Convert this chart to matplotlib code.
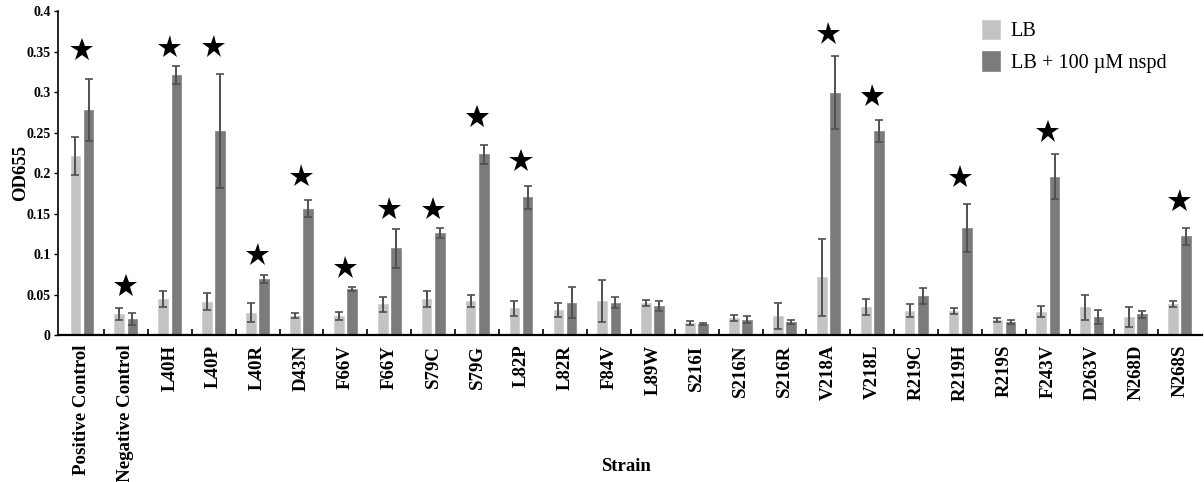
import numpy as np
import matplotlib
matplotlib.use('Agg')
from matplotlib import pyplot as plt
from matplotlib import patheffects as pe
from matplotlib.ticker import FixedLocator

plt.rcParams['font.family'] = ['Liberation Serif', 'DejaVu Serif']

strains = ['Positive Control', 'Negative Control', 'L40H', 'L40P', 'L40R', 'D43N',
           'F66V', 'F66Y', 'S79C', 'S79G', 'L82P', 'L82R', 'F84V', 'L89W',
           'S216I', 'S216N', 'S216R', 'V218A', 'V218L', 'R219C', 'R219H',
           'R219S', 'F243V', 'D263V', 'N268D', 'N268S']

lb = [0.221, 0.026, 0.044, 0.041, 0.0275, 0.024, 0.024, 0.038, 0.044, 0.042,
      0.033, 0.031, 0.042, 0.040, 0.015, 0.021, 0.0235, 0.071, 0.035, 0.030,
      0.030, 0.0185, 0.029, 0.034, 0.022, 0.038]
lb_err = [0.023, 0.007, 0.010, 0.0105, 0.012, 0.003, 0.005, 0.009, 0.010, 0.007,
          0.009, 0.009, 0.0265, 0.0037, 0.0023, 0.0043, 0.016, 0.047, 0.010, 0.008,
          0.0037, 0.003, 0.0068, 0.0157, 0.012, 0.004]

nspd = [0.278, 0.020, 0.321, 0.252, 0.069, 0.156, 0.0565, 0.107, 0.126, 0.223,
        0.170, 0.040, 0.040, 0.036, 0.0136, 0.019, 0.016, 0.299, 0.252, 0.048,
        0.132, 0.0165, 0.1955, 0.0226, 0.0255, 0.122]
nspd_err = [0.038, 0.0077, 0.0115, 0.0705, 0.0045, 0.0105, 0.0025, 0.024, 0.006, 0.012,
            0.0144, 0.019, 0.0064, 0.006, 0.0015, 0.0043, 0.003, 0.045, 0.014, 0.0103,
            0.030, 0.0025, 0.0275, 0.0086, 0.004, 0.0103]

# significance stars: (strain index, height)
star_idx = [0, 1, 2, 3, 4, 5, 6, 7, 8, 9, 10, 17, 18, 20, 22, 25]
star_y = [0.352, 0.0605, 0.355, 0.356, 0.099, 0.196, 0.083, 0.1556, 0.155, 0.269,
          0.215, 0.372, 0.295, 0.1946, 0.251, 0.1654]

light = '#c3c3c3'
dark = '#7b7b7b'

fig = plt.figure(figsize=(12.04, 4.82), dpi=100)
ax = fig.add_axes([0.048, 0.305, 0.95, 0.672])

x = np.arange(len(strains))
w = 0.22
err_kw = dict(ecolor='#505050', elinewidth=1.4, capsize=2.6, capthick=1.2)
ax.bar(x - 0.15, lb, w, yerr=lb_err, color=light, edgecolor='#d0d0d0',
       linewidth=0.6, error_kw=err_kw, label='LB')
ax.bar(x + 0.15, nspd, w, yerr=nspd_err, color=dark, edgecolor='#8c8c8c',
       linewidth=0.6, error_kw=err_kw, label='LB + 100 µM nspd')

ax.plot(x[star_idx], star_y, linestyle='none', marker='*', markersize=17.5,
        color='black', markeredgewidth=0,
        path_effects=[pe.SimpleLineShadow(offset=(1, -1.5), shadow_color='gray', alpha=0.5),
                      pe.Normal()])

ax.set_xlim(-0.55, len(strains) - 0.5)
ax.set_ylim(0, 0.4)
yt = np.arange(0, 0.41, 0.05)
ax.set_yticks(yt)
ax.set_yticklabels(['%g' % round(v, 2) for v in yt])

ax.set_xticks(x)
ax.set_xticklabels(strains, rotation=90, fontsize=13.6, fontweight='bold')
ax.xaxis.set_minor_locator(FixedLocator(x[:-1] + 0.5))
ax.tick_params(axis='x', which='major', length=0, pad=7)
ax.tick_params(axis='x', which='minor', direction='in', length=4, width=1.2)
ax.tick_params(axis='y', direction='out', length=3, width=1, labelsize=10, pad=2)
for lab in ax.get_yticklabels():
    lab.set_fontweight('bold')

for s in ['top', 'right']:
    ax.spines[s].set_visible(False)
ax.spines['left'].set_linewidth(1.2)
ax.spines['bottom'].set_linewidth(1.6)

ax.set_ylabel('OD655', fontsize=13.5, fontweight='bold')
ax.yaxis.set_label_coords(-0.0255, 0.5)
ax.set_xlabel('Strain', fontsize=13.5, fontweight='bold', va='center')
ax.xaxis.set_label_coords(0.497, -0.405)

ax.legend(loc='upper right', bbox_to_anchor=(0.985, 1.03), frameon=False,
          fontsize=14.6, handlelength=0.9, handleheight=1.1, handletextpad=0.5,
          labelspacing=0.5)

fig.savefig('out.png', dpi=100)
